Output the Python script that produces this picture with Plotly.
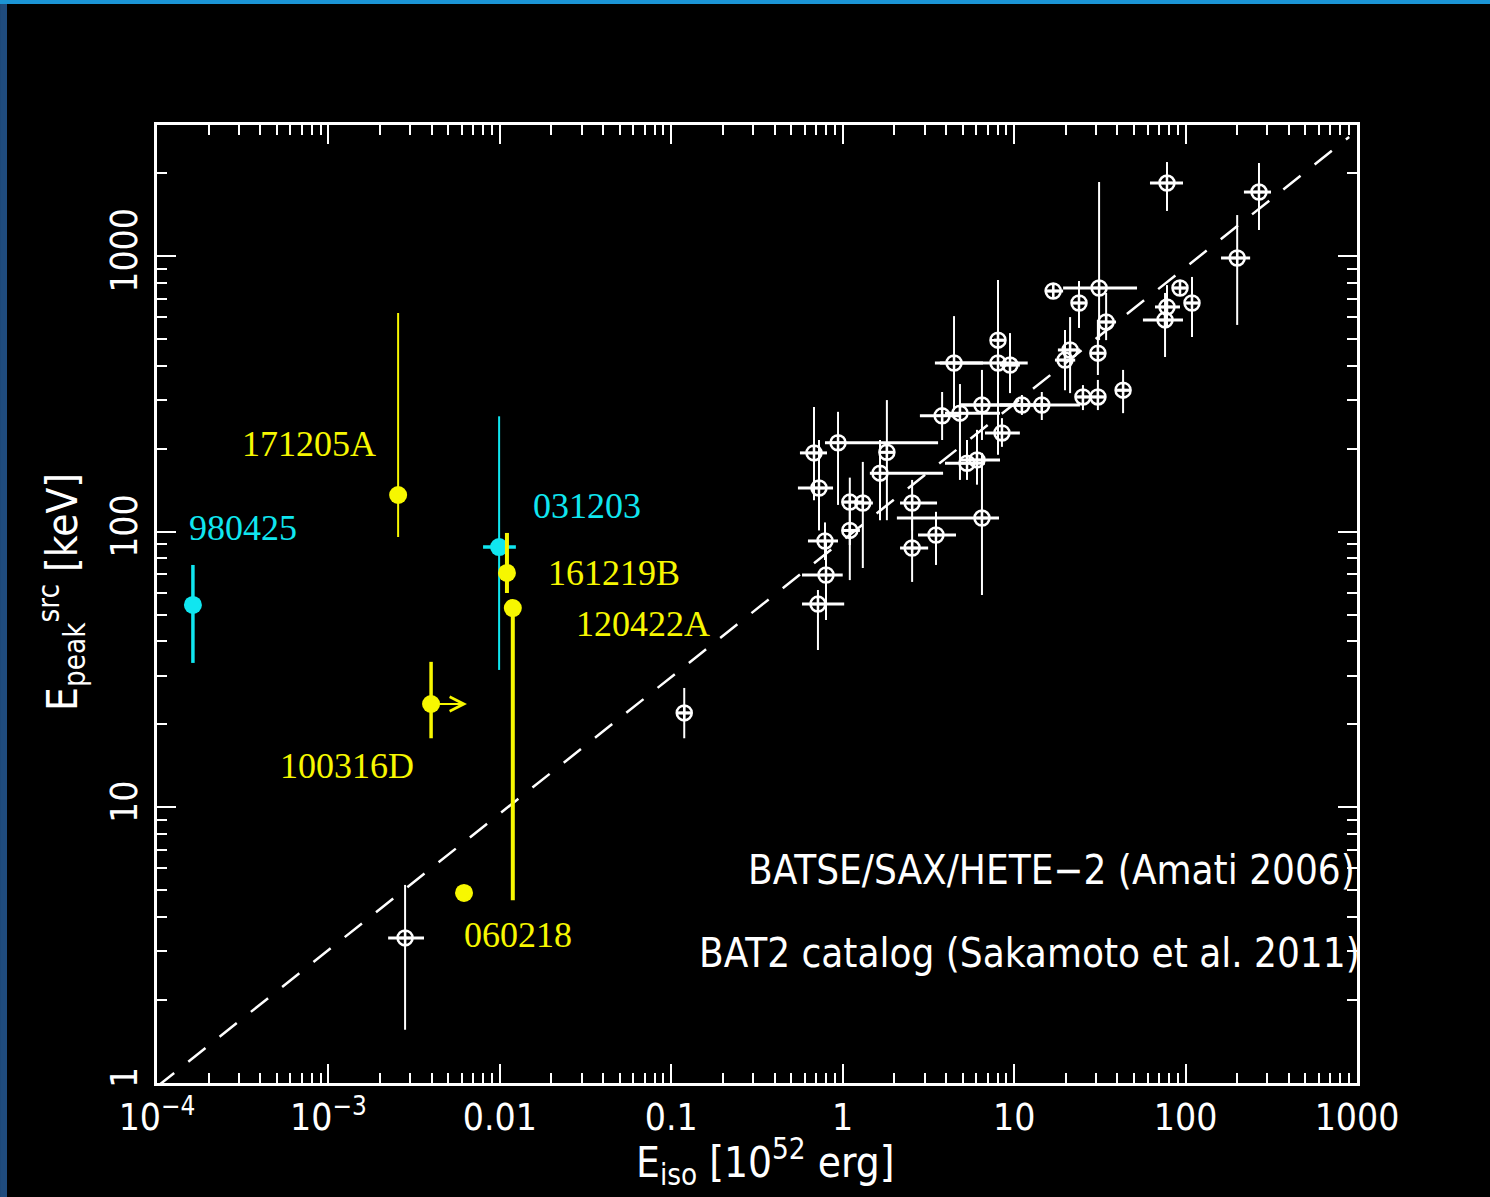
import numpy as np
import plotly.graph_objects as go

# ---- Comparison sample: BATSE/SAX/HETE-2 (Amati 2006) + BAT2 (Sakamoto et al. 2011)
E_iso = [0.0028, 0.119, 0.680, 0.727, 0.939, 1.81, 1.65, 1.10, 1.31, 1.10, 0.788, 0.799,
         0.717, 2.54, 2.54, 3.50, 6.49, 4.46, 8.05, 8.05, 9.46, 16.9, 3.80, 4.83, 6.49,
         8.49, 11.1, 14.5, 6.07, 5.31, 77.9, 268, 200, 31.3, 30.8, 30.8, 23.9, 34.4,
         21.2, 19.8, 25.2, 43.2, 92.8, 109, 77.9, 75.9]
E_iso_lo = [0.00223, 0.108, 0.563, 0.548, 0.788, 1.65, 1.44, 1.00, 1.18, 0.99, 0.627, 0.579,
            0.579, 2.16, 2.16, 2.75, 2.07, 3.45, 7.63, 3.69, 8.27, 15.1, 2.82, 3.95, 4.83,
            6.76, 8.27, 4.83, 4.83, 3.95, 62.0, 219, 161, 19.3, 27.7, 27.7, 21.8, 30.8,
            18.0, 17.3, 22.7, 38.8, 83.3, 97.9, 66.3, 56.4]
E_iso_hi = [0.00361, 0.132, 0.810, 0.878, 3.60, 2.02, 3.85, 1.30, 1.50, 1.26, 0.939, 1.00,
            1.02, 3.55, 3.15, 4.58, 8.16, 6.58, 8.72, 12.0, 10.8, 19.3, 4.83, 8.27, 16.2,
            10.8, 15.1, 24.2, 8.27, 6.76, 96.6, 315, 238, 52.1, 34.4, 34.4, 26.3, 39.3,
            24.2, 22.7, 28.5, 48.1, 103, 121, 92.8, 96.6]
E_peak = [3.36, 22.0, 193, 144, 210, 194, 163, 128, 127, 101, 92.5, 69.6, 54.6, 127, 87.2,
          97.2, 112, 409, 495, 409, 402, 746, 263, 269, 288, 228, 288, 288, 182, 177, 1838,
          1705, 983, 765, 444, 308, 675, 576, 456, 419, 308, 326, 765, 675, 653, 586]
E_peak_lo = [1.56, 17.8, 130, 101, 125, 110, 110, 66.7, 73.8, 89.4, 78.9, 47.8, 37.2, 101,
             65.7, 75.7, 58.9, 276, 300, 190, 318, 709, 215, 154, 215, 203, 265, 254, 148,
             154, 1456, 1242, 562, 495, 370, 276, 548, 495, 318, 326, 276, 269, 715, 508,
             548, 430]
E_peak_hi = [5.23, 27.1, 283, 215, 272, 300, 215, 157, 179, 120, 108, 93.2, 61.4, 154, 110,
             118, 193, 605, 818, 539, 525, 784, 321, 343, 386, 258, 313, 321, 234, 215, 2191,
             2173, 1407, 1854, 586, 355, 811, 734, 600, 539, 340, 386, 818, 839, 784, 734]

# ---- Amati relation (straight line in log-log space)
amati_E = [1.0e-4, 900.0]
amati_Ep = [0.97, 2700.0]

# ---- Low-luminosity / SN-associated bursts
grb_names = ["980425", "031203", "171205A", "161219B", "120422A", "100316D", "060218"]
grb_eiso = [1.62e-4, 0.0099, 2.55e-3, 0.0110, 0.0119, 3.97e-3, 6.18e-3]
grb_eiso_lo = [1.62e-4, 0.00798, 2.55e-3, 0.0110, 0.0119, 3.97e-3, 6.18e-3]
grb_eiso_hi = [1.62e-4, 0.0124, 2.55e-3, 0.0110, 0.0119, 3.97e-3, 6.18e-3]
grb_epeak = [54.2, 87.9, 135.8, 70.8, 52.8, 23.7, 4.89]
grb_epeak_lo = [33.4, 31.5, 95.6, 59.9, 4.6, 17.8, 4.89]
grb_epeak_hi = [75.7, 262.0, 621.0, 98.9, 52.8, 33.7, 4.89]
grb_eiso_lower_limit = ["100316D"]

# x tick labels
x_tickvals = [1e-4, 1e-3, 0.01, 0.1, 1, 10, 100, 1000]
x_ticktext = ["10<sup>\u22124</sup>", "10<sup>\u22123</sup>", "0.01", "0.1", "1", "10", "100", "1000"]
y_tickvals = [1, 10, 100, 1000]
y_ticktext = ["1", "10", "100", "1000"]

CYAN = "#10e6f0"
YELLOW = "#f7f700"
AX_FONT = "Liberation Sans Narrow, DejaVu Sans Condensed, Liberation Sans, sans-serif"
LBL_FONT = "Liberation Serif, Times New Roman, serif"

grb_style = {
    "980425":  dict(color=CYAN, ythick=3.5, xthick=3),
    "031203":  dict(color=CYAN, ythick=2, xthick=3.5),
    "171205A": dict(color=YELLOW, ythick=2, xthick=2),
    "161219B": dict(color=YELLOW, ythick=4, xthick=2),
    "120422A": dict(color=YELLOW, ythick=4, xthick=2),
    "100316D": dict(color=YELLOW, ythick=3.5, xthick=2),
    "060218":  dict(color=YELLOW, ythick=2, xthick=2),
}
# label placement: (E_iso, E_peak, anchor)
grb_label = {
    "980425":  (1.50e-4, 103, "left"),
    "031203":  (0.0152, 124, "left"),
    "171205A": (1.95e-3, 208, "right"),
    "161219B": (0.0186, 70.8, "left"),
    "120422A": (0.0271, 46.2, "left"),
    "100316D": (3.24e-3, 14.1, "right"),
    "060218":  (6.0e-3, 3.44, "left"),
}
arrow_end = {"100316D": 6.43e-3}

fig = go.Figure()

# comparison sample
e_iso = np.array(E_iso); e_pk = np.array(E_peak)
fig.add_trace(go.Scatter(
    x=e_iso, y=e_pk, mode="markers",
    marker=dict(symbol="circle-cross-open", size=15, color="white", line=dict(width=2.5, color="white")),
    error_x=dict(type="data", symmetric=False, array=np.array(E_iso_hi) - e_iso,
                 arrayminus=e_iso - np.array(E_iso_lo), color="white", thickness=3, width=0),
    error_y=dict(type="data", symmetric=False, array=np.array(E_peak_hi) - e_pk,
                 arrayminus=e_pk - np.array(E_peak_lo), color="white", thickness=2, width=0),
    showlegend=False, hoverinfo="skip"))

# Amati relation
fig.add_trace(go.Scatter(x=amati_E, y=amati_Ep, mode="lines",
                         line=dict(color="white", width=2.5, dash="22px,18px"),
                         showlegend=False, hoverinfo="skip"))

annotations = []
for i, name in enumerate(grb_names):
    st = grb_style[name]
    x, y = grb_eiso[i], grb_epeak[i]
    fig.add_trace(go.Scatter(
        x=[x], y=[y], mode="markers",
        marker=dict(symbol="circle", size=18, color=st["color"]),
        error_x=dict(type="data", symmetric=False, array=[grb_eiso_hi[i] - x],
                     arrayminus=[x - grb_eiso_lo[i]], color=st["color"], thickness=st["xthick"], width=0),
        error_y=dict(type="data", symmetric=False, array=[grb_epeak_hi[i] - y],
                     arrayminus=[y - grb_epeak_lo[i]], color=st["color"], thickness=st["ythick"], width=0),
        showlegend=False, hoverinfo="skip"))
    lx, ly, anc = grb_label[name]
    annotations.append(dict(x=np.log10(lx), y=np.log10(ly), xref="x", yref="y", text=name,
                            showarrow=False, xanchor=anc, yanchor="middle",
                            font=dict(family=LBL_FONT, size=36, color=st["color"])))
    if name in grb_eiso_lower_limit:
        annotations.append(dict(x=np.log10(arrow_end[name]), y=np.log10(y), ax=np.log10(x), ay=np.log10(y),
                                xref="x", yref="y", axref="x", ayref="y", text="", showarrow=True,
                                arrowhead=5, arrowsize=1.4, arrowwidth=2, arrowcolor=st["color"]))

# sample captions
annotations.append(dict(x=1.0, y=0.2223, xref="paper", yref="paper", xanchor="right", yanchor="middle",
                        text="BATSE/SAX/HETE\u22122 (Amati 2006)", showarrow=False,
                        font=dict(family=AX_FONT, size=40, color="white")))
annotations.append(dict(x=1.004, y=0.1357, xref="paper", yref="paper", xanchor="right", yanchor="middle",
                        text="BAT2 catalog (Sakamoto et al. 2011)", showarrow=False,
                        font=dict(family=AX_FONT, size=40, color="white")))
# axis titles
annotations.append(dict(x=0.5067, y=-0.0825, xref="paper", yref="paper", xanchor="center", yanchor="middle",
                        text="E<sub>iso</sub> [10<sup>52</sup> erg]", showarrow=False,
                        font=dict(family=AX_FONT, size=42, color="white")))
annotations.append(dict(x=-0.0792, y=0.5125, xref="paper", yref="paper", xanchor="center", yanchor="middle",
                        text="E<sub>peak</sub><sup>src</sup> [keV]", showarrow=False, textangle=-90,
                        font=dict(family=AX_FONT, size=42, color="white")))

axis_common = dict(
    type="log", showgrid=False, zeroline=False, showline=True, linecolor="white", linewidth=3,
    mirror="ticks", ticks="inside", ticklen=19, tickwidth=2, tickcolor="white",
    tickfont=dict(family=AX_FONT, size=37, color="white"), tickmode="array",
    minor=dict(ticks="inside", ticklen=10, tickwidth=2, tickcolor="white", tickmode="linear", dtick="D1",
               showgrid=False),
)

fig.update_layout(
    width=1490, height=1197,
    margin=dict(l=157, r=133, t=125, b=114, autoexpand=False),
    paper_bgcolor="black", plot_bgcolor="black",
    xaxis=dict(range=[-4, 3], tickvals=x_tickvals, ticktext=x_ticktext, ticklabelstandoff=0, **axis_common),
    yaxis=dict(range=[0, np.log10(2985)], tickvals=y_tickvals, ticktext=y_ticktext, tickangle=-90,
               ticklabelstandoff=2, **axis_common),
    annotations=annotations,
    shapes=[
        dict(type="rect", xref="paper", yref="paper", x0=-0.1308, x1=-0.125, y0=-0.12, y1=1.131,
             fillcolor="#1f4b7d", line=dict(width=0)),
        dict(type="rect", xref="paper", yref="paper", x0=-0.131, x1=1.12, y0=1.1263, y1=1.131,
             fillcolor="#1b95d6", line=dict(width=0)),
    ],
)

fig.write_html("out.html")
